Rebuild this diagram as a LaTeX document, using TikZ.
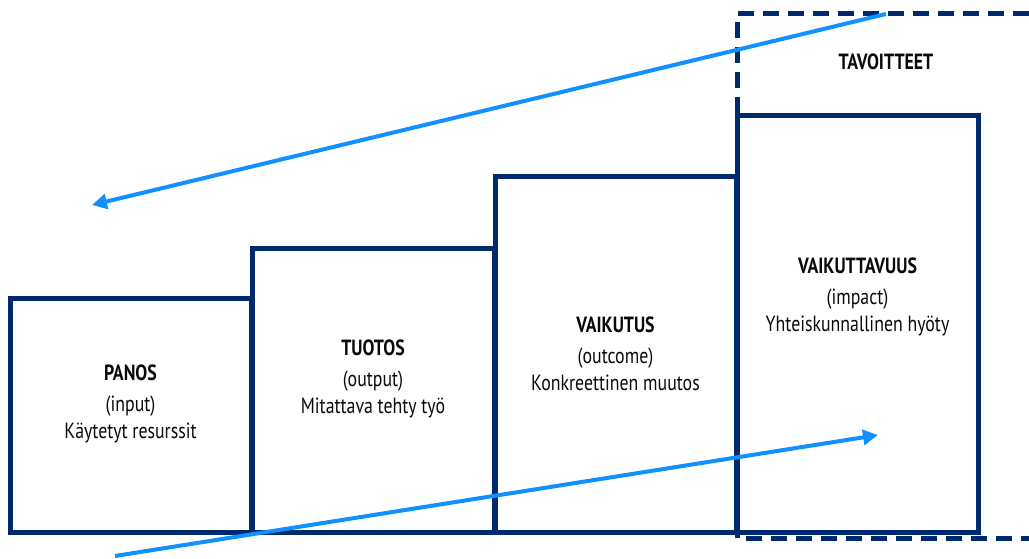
\documentclass[tikz,border=0pt]{standalone}
\usepackage{fontspec}
\setmainfont{PT Sans}[FakeStretch=0.81]
\usetikzlibrary{arrows.meta}
\definecolor{navy}{RGB}{0,42,110}
\definecolor{sky}{RGB}{18,144,255}
\definecolor{ink}{RGB}{10,10,10}
\tikzset{
  stagebox/.style={draw=navy, line width=5pt, fill=none, inner sep=0pt, outer sep=0pt},
  goalline/.style={draw=navy, line width=5pt, dash pattern=on 16pt off 9pt},
  flow/.style={draw=sky, line width=4pt, -{Triangle[length=15pt,width=15pt]}},
  ttl/.style={font=\fontsize{22}{26}\selectfont\bfseries, text=ink, anchor=base, inner sep=0pt},
  txt/.style={font=\fontsize{22}{26}\selectfont, text=ink, anchor=base, inner sep=0pt}
}
\begin{document}
\begin{tikzpicture}[x=1pt,y=-1pt]
\useasboundingbox (0,0) rectangle (1029,559);
% stage boxes
\node[stagebox, minimum width=241pt, minimum height=234pt] (panos) at (130.5,415) {};
\node[stagebox, minimum width=242pt, minimum height=284pt] (tuotos) at (373,390) {};
\node[stagebox, minimum width=241pt, minimum height=355pt] (vaikutus) at (615.5,354.5) {};
\node[stagebox, minimum width=241pt, minimum height=416pt] (vaikuttavuus) at (857.5,324) {};
% dashed goal frame
\coordinate (gtr) at (1029,14);
\coordinate (gtl) at (737,14);
\coordinate (gbl) at (737,538);
\coordinate (gbr) at (1029,538);
\draw[goalline] (gtr) -- (gtl) -- (gbl) -- (gbr);
\node[ttl] (tav) at (886,70) {TAVOITTEET};
% texts
\node[ttl] (t1a) at (130.5,380) {PANOS};
\node[txt] (t1b) at (130.5,411) {(input)};
\node[txt] (t1c) at (130.5,438) {Käytetyt resurssit};
\node[ttl] (t2a) at (373,355) {TUOTOS};
\node[txt] (t2b) at (373,386) {(output)};
\node[txt] (t2c) at (373,413) {Mitattava tehty työ};
\node[ttl] (t3a) at (615.5,332) {VAIKUTUS};
\node[txt] (t3b) at (615.5,363) {(outcome)};
\node[txt] (t3c) at (615.5,390) {Konkreettinen muutos};
\node[ttl] (t4a) at (857.5,273) {VAIKUTTAVUUS};
\node[txt] (t4b) at (857.5,304) {(impact)};
\node[txt] (t4c) at (857.5,331) {Yhteiskunnallinen hyöty};
% arrows
\coordinate (a1s) at (886,14);
\coordinate (a1e) at (92,205);
\coordinate (a2s) at (115,556);
\coordinate (a2e) at (878,435);
\draw[flow] (a1s) -- (a1e);
\draw[flow] (a2s) -- (a2e);
\end{tikzpicture}
\end{document}
